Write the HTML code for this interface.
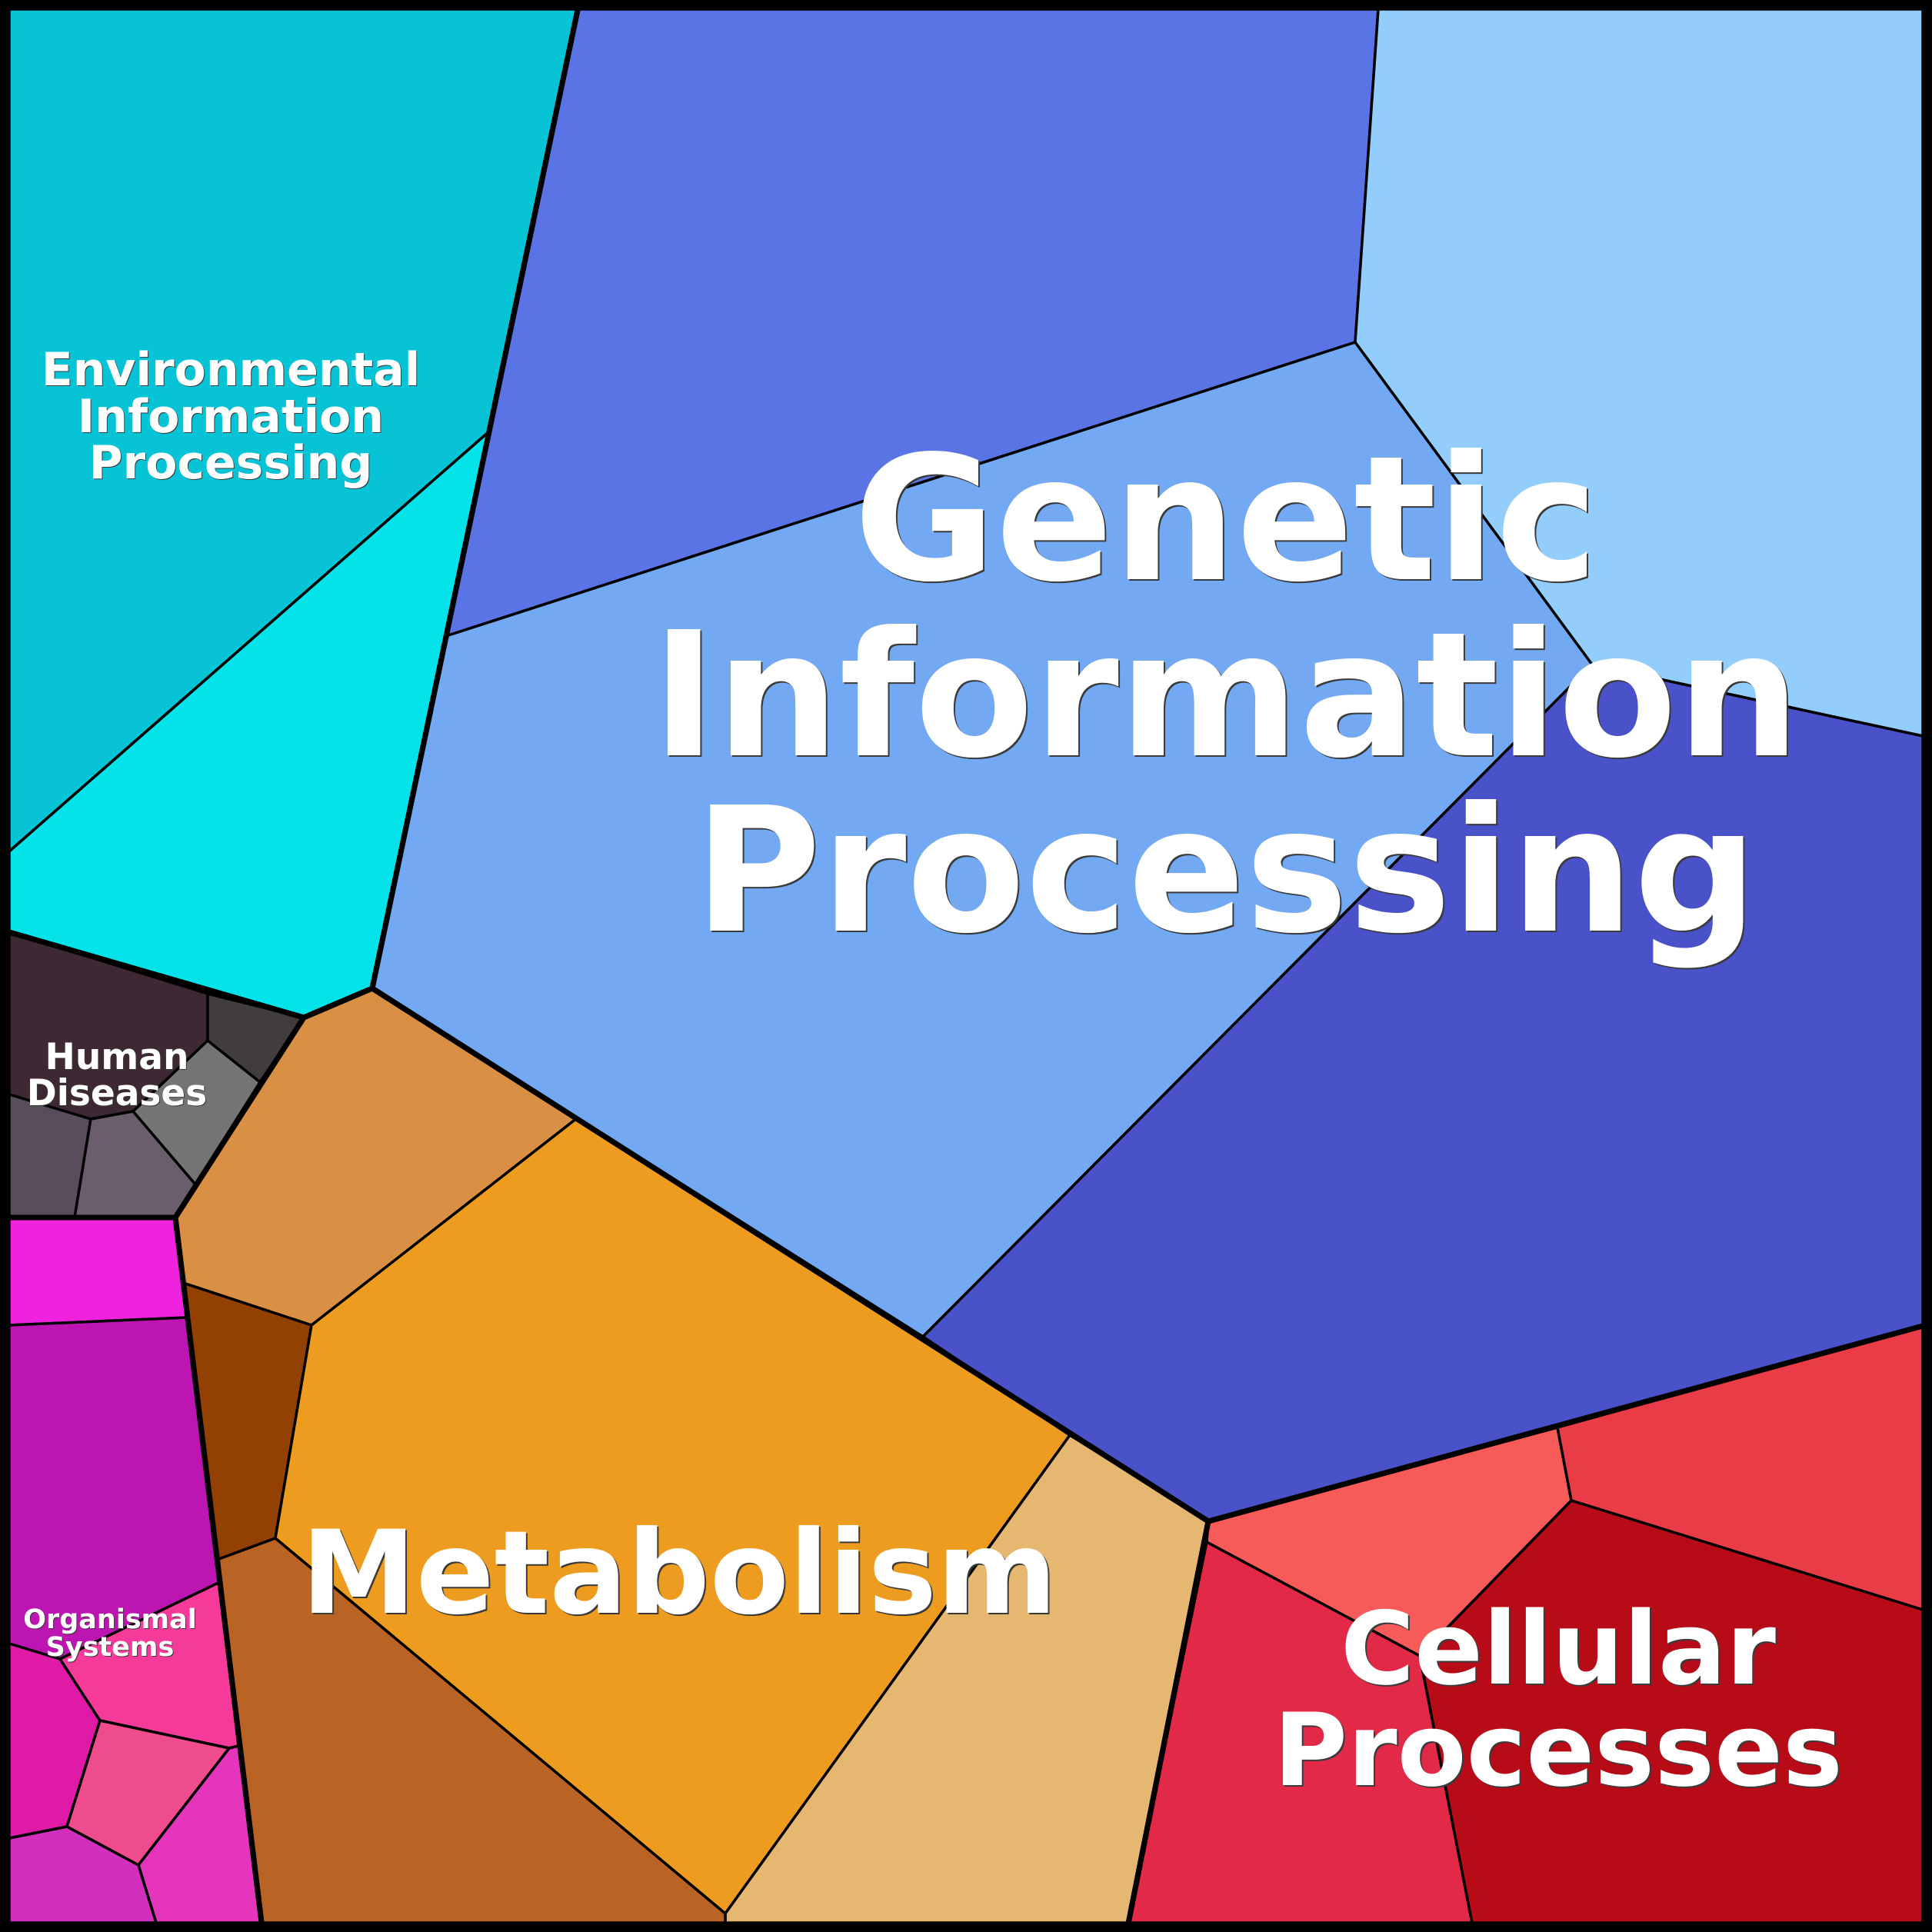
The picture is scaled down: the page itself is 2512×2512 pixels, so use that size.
<!DOCTYPE html>
<html>
<head>
<meta charset="utf-8">
<style>
html,body{margin:0;padding:0;background:#000;}
svg{display:block;}
text{font-family:"DejaVu Sans","Liberation Sans",sans-serif;font-weight:bold;text-anchor:middle;}
.sh{fill:#3a3a3a;}
.tx{fill:#ffffff;}
</style>
</head>
<body>
<svg width="2512" height="2512" viewBox="0 0 2512 2512" xmlns="http://www.w3.org/2000/svg">
<rect x="0" y="0" width="2512" height="2512" fill="#000"/>
<g stroke="#000" stroke-width="3.5" stroke-linejoin="round">
<!-- Environmental -->
<polygon fill="#06C4D5" points="12,12 751,12 636,561 12,1107"/>
<polygon fill="#04E2EA" points="12,1107 636,561 484,1285 395,1323 12,1212"/>
<!-- Genetic -->
<polygon fill="#5A74E6" points="751,12 1792,12 1762,445 580,827"/>
<polygon fill="#92CDFC" points="1792,12 2500,12 2500,957 2070,864 1762,445"/>
<polygon fill="#72A9F2" points="580,827 1762,445 2070,864 1200,1738 484,1285"/>
<polygon fill="#4A52C9" points="2070,864 2500,957 2500,1724 1571,1978 1391,1866 1200,1738"/>
<!-- Human -->
<polygon fill="#3D2833" points="12,1212 270,1292 270,1353 173,1445 118,1455 12,1423"/>
<polygon fill="#413D3E" points="270,1292 395,1323 338,1407 270,1353"/>
<polygon fill="#747474" points="270,1353 338,1407 254,1540 173,1445"/>
<polygon fill="#594C5C" points="12,1423 118,1455 97,1583 12,1583"/>
<polygon fill="#6A5E6D" points="118,1455 173,1445 254,1540 228,1583 97,1583"/>
<!-- Organismal -->
<polygon fill="#EF22DD" points="12,1583 228,1583 244,1713 12,1723"/>
<polygon fill="#BD15B2" points="12,1723 244,1713 286,2057 78,2157 12,2137"/>
<polygon fill="#DF1AA7" points="12,2137 78,2157 130,2237 87,2375 12,2390"/>
<polygon fill="#F53A99" points="78,2157 286,2057 310,2270 298,2273 130,2237"/>
<polygon fill="#EF4C8E" points="130,2237 298,2273 180,2425 87,2375"/>
<polygon fill="#E535BC" points="298,2273 310,2270 340,2500 203,2500 180,2425"/>
<polygon fill="#D12FBC" points="12,2390 87,2375 180,2425 203,2500 12,2500"/>
<!-- Metabolism -->
<polygon fill="#D99044" points="395,1323 484,1285 750,1454 405,1723 238,1668 228,1583"/>
<polygon fill="#934003" points="238,1668 405,1723 358,2000 282,2028"/>
<polygon fill="#ED9C1F" points="405,1723 750,1454 1200,1738 1391,1866 943,2488 358,2000"/>
<polygon fill="#E6B770" points="1391,1866 1571,1978 1467,2500 943,2500 943,2488"/>
<polygon fill="#B96325" points="282,2028 358,2000 943,2488 943,2500 340,2500"/>
<!-- Cellular -->
<polygon fill="#F65A59" points="1571,1978 2025,1856 2043,1951 1846,2153 1569,2005"/>
<polygon fill="#E93C46" points="2025,1856 2500,1724 2500,2093 2043,1951"/>
<polygon fill="#E22A48" points="1569,2005 1846,2153 1914,2500 1467,2500"/>
<polygon fill="#B70C17" points="2043,1951 2500,2093 2500,2500 1914,2500 1846,2153"/>
</g>
<!-- thick top-level boundaries (edge vertices pushed outward so frame stays ~12px) -->
<g fill="none" stroke="#000" stroke-width="7" stroke-linejoin="round">
<polygon points="8.5,8.5 752,8.5 484,1285 395,1323 8.5,1211"/>
<polygon points="752,8.5 2503.5,8.5 2503.5,1723 1571,1978 484,1285"/>
<polygon points="8.5,1211 395,1323 228,1583 8.5,1583"/>
<polygon points="8.5,1583 228,1583 340.5,2503.5 8.5,2503.5"/>
<polygon points="395,1323 484,1285 1571,1978 1466.5,2503.5 340.5,2503.5 228,1583"/>
<polygon points="1571,1978 2503.5,1723 2503.5,2503.5 1466.5,2503.5"/>
</g>
<!-- outer frame -->
<rect x="4" y="4" width="2504" height="2504" fill="none" stroke="#000" stroke-width="8"/>

<!-- Labels -->
<g font-size="225">
<text class="sh" x="1596" y="755">Genetic</text>
<text class="tx" x="1594" y="753">Genetic</text>
<text class="sh" x="1596" y="984">Information</text>
<text class="tx" x="1594" y="982">Information</text>
<text class="sh" x="1596" y="1212">Processing</text>
<text class="tx" x="1594" y="1210">Processing</text>
</g>
<g font-size="150">
<text class="sh" x="885" y="2099">Metabolism</text>
<text class="tx" x="883" y="2097">Metabolism</text>
</g>
<g font-size="131">
<text class="sh" x="2028" y="2191">Cellular</text>
<text class="tx" x="2026" y="2189">Cellular</text>
<text class="sh" x="2028" y="2323">Processes</text>
<text class="tx" x="2026" y="2321">Processes</text>
</g>
<g font-size="60">
<text class="sh" x="301" y="502">Environmental</text>
<text class="tx" x="300" y="501">Environmental</text>
<text class="sh" x="301" y="563">Information</text>
<text class="tx" x="300" y="562">Information</text>
<text class="sh" x="301" y="623">Processing</text>
<text class="tx" x="300" y="622">Processing</text>
</g>
<g font-size="47">
<text class="sh" x="153" y="1391">Human</text>
<text class="tx" x="152" y="1390">Human</text>
<text class="sh" x="153" y="1438">Diseases</text>
<text class="tx" x="152" y="1437">Diseases</text>
</g>
<g font-size="35">
<text class="sh" x="144" y="2118">Organismal</text>
<text class="tx" x="143" y="2117">Organismal</text>
<text class="sh" x="144" y="2154">Systems</text>
<text class="tx" x="143" y="2153">Systems</text>
</g>
</svg>
</body>
</html>
